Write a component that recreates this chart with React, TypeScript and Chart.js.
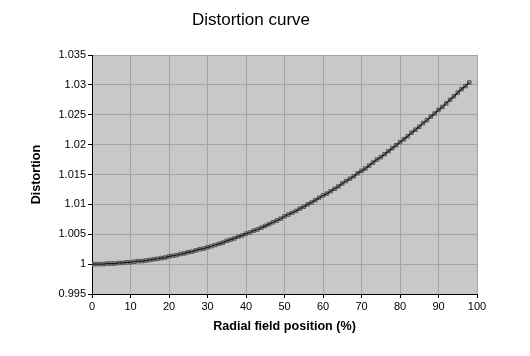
import React, { useEffect, useRef } from "react";
import { Chart, registerables } from "chart.js";

Chart.register(...registerables);

const positions = [
  0, 1, 2, 3, 4, 5, 6, 7, 8, 9, 10, 11, 12, 13, 14, 15, 16, 17, 18, 19, 20, 21,
  22, 23, 24, 25, 26, 27, 28, 29, 30, 31, 32, 33, 34, 35, 36, 37, 38, 39, 40, 41,
  42, 43, 44, 45, 46, 47, 48, 49, 50, 51, 52, 53, 54, 55, 56, 57, 58, 59, 60, 61,
  62, 63, 64, 65, 66, 67, 68, 69, 70, 71, 72, 73, 74, 75, 76, 77, 78, 79, 80, 81,
  82, 83, 84, 85, 86, 87, 88, 89, 90, 91, 92, 93, 94, 95, 96, 97, 98,
];
const distortion = [
  1.0, 1.0, 1.0, 1.0, 1.0001, 1.0001, 1.0001, 1.0002, 1.0002, 1.0003,
  1.0003, 1.0004, 1.0005, 1.0005, 1.0006, 1.0007, 1.0008, 1.0009, 1.001, 1.0011,
  1.0013, 1.0014, 1.0015, 1.0017, 1.0018, 1.002, 1.0021, 1.0023, 1.0025, 1.0026,
  1.0028, 1.003, 1.0032, 1.0034, 1.0036, 1.0039, 1.0041, 1.0043, 1.0046, 1.0048,
  1.0051, 1.0053, 1.0056, 1.0058, 1.0061, 1.0064, 1.0067, 1.007, 1.0073, 1.0076,
  1.008, 1.0083, 1.0086, 1.0089, 1.0093, 1.0096, 1.01, 1.0103, 1.0107, 1.0111,
  1.0115, 1.0118, 1.0122, 1.0126, 1.013, 1.0135, 1.0139, 1.0143, 1.0147, 1.0152,
  1.0156, 1.016, 1.0165, 1.017, 1.0175, 1.0179, 1.0184, 1.0189, 1.0194, 1.0199,
  1.0204, 1.0209, 1.0214, 1.022, 1.0225, 1.023, 1.0236, 1.0241, 1.0247, 1.0252,
  1.0258, 1.0263, 1.0269, 1.0275, 1.0281, 1.0287, 1.0293, 1.0298, 1.0304,
];
const titleText = "Distortion curve";
const xTitle = "Radial field position (%)";
const yTitle = "Distortion";

const FONT = "'Liberation Sans', Arial, sans-serif";

export default function App() {
  const ref = useRef<HTMLCanvasElement | null>(null);

  useEffect(() => {
    const pts = positions.map((x, i) => ({ x, y: distortion[i] }));
    const bgPlugin = {
      id: "plotBg",
      beforeDraw(chart: any) {
        const { ctx, chartArea } = chart;
        if (!chartArea) return;
        ctx.save();
        ctx.fillStyle = "#c8c8c8";
        ctx.fillRect(chartArea.left, chartArea.top, chartArea.right - chartArea.left, chartArea.bottom - chartArea.top);
        ctx.restore();
      },
    };
    const chart = new Chart(ref.current!, {
      type: "scatter",
      data: {
        datasets: [
          {
            data: pts,
            showLine: true,
            borderColor: "#1a1a1a",
            borderWidth: 1.2,
            pointRadius: 0,
            fill: false,
          },
          {
            data: pts,
            showLine: false,
            pointStyle: "rect",
            pointRadius: 2.5,
            pointBackgroundColor: "#9a9a9a",
            pointBorderColor: "#555555",
            pointBorderWidth: 1,
          },
        ],
      },
      options: {
        animation: false,
        responsive: false,
        maintainAspectRatio: false,
        layout: { padding: { left: 25, right: 53, top: 0, bottom: 18 } },
        plugins: {
          legend: { display: false },
          tooltip: { enabled: false },
          title: {
            display: true,
            text: titleText,
            color: "#000",
            font: { family: FONT, size: 17, weight: "normal" },
            padding: { top: 10, bottom: 24.6 },
          },
        },
        scales: {
          x: {
            type: "linear",
            min: 0,
            max: 100,
            afterFit(scale: any) {
              scale.height = 44;
            },
            ticks: {
              stepSize: 10,
              color: "#000",
              font: { family: FONT, size: 11 },
              padding: 2,
            },
            grid: { color: "#a4a4a4", tickColor: "#000", tickLength: 4, lineWidth: 1 },
            border: { color: "#000", width: 1 },
            title: {
              display: true,
              text: xTitle,
              color: "#000",
              font: { family: FONT, size: 12.6, weight: "bold" },
              padding: { top: 4, bottom: 4 },
            },
          },
          y: {
            type: "linear",
            min: 0.995,
            max: 1.035,
            afterFit(scale: any) {
              scale.width = 67;
            },
            ticks: {
              stepSize: 0.005,
              color: "#000",
              font: { family: FONT, size: 11 },
              padding: 2,
              callback: (v: any) => String(Number(Number(v).toFixed(3))),
            },
            grid: { color: "#a4a4a4", tickColor: "#000", tickLength: 4, lineWidth: 1 },
            border: { color: "#000", width: 1 },
            title: {
              display: true,
              text: yTitle,
              color: "#000",
              font: { family: FONT, size: 12.6, weight: "bold" },
              padding: { top: 4, bottom: 0 },
            },
          },
        },
      },
      plugins: [bgPlugin],
    });
    return () => chart.destroy();
  }, []);

  return (
    <div style={{ position: "fixed", left: 0, top: 0, width: 530, height: 356, background: "#fff" }}>
      <canvas ref={ref} width={530} height={356} style={{ width: 530, height: 356, display: "block" }} />
    </div>
  );
}
